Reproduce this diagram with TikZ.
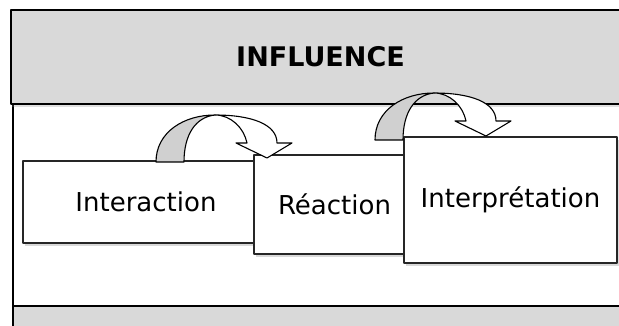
\documentclass[tikz,border=0pt]{standalone}
\usepackage{fontspec}
\setmainfont{DejaVu Sans}
\usetikzlibrary{positioning,shadows}
\definecolor{bargray}{RGB}{217,217,217}
\definecolor{turngray}{RGB}{208,208,208}

\tikzset{
  turnarrow/.pic={
    % back side of the ribbon
    \draw[line width=1.1pt, fill=turngray] (0,0) .. controls (0,-30) and (28,-47) .. (59,-47)
      .. controls (40,-45) and (28,-28) .. (28,0) -- cycle;
    % front side with the head
    \draw[line width=1.1pt, fill=white] (59,-47) .. controls (95,-47) and (121,-38) .. (121,-19)
      -- (136,-19) -- (111,-4) -- (80,-19) -- (91,-19)
      .. controls (88,-34) and (75,-47) .. (59,-47) -- cycle;
  }
}

\begin{document}
\begin{tikzpicture}[
  x=1pt, y=-1pt,
  line join=round,
  band/.style={draw=black, line width=1.8pt, fill=bargray, inner sep=0pt,
    font=\fontsize{27}{30}\selectfont\bfseries,
    drop shadow={opacity=0.25, shadow xshift=1pt, shadow yshift=-3pt}},
  stage/.style={draw=black!85, line width=1.6pt, fill=white, inner sep=0pt,
    font=\fontsize{26}{30}\selectfont,
    drop shadow={opacity=0.3, shadow xshift=2pt, shadow yshift=-3pt}},
  ]
  \clip (0,0) rectangle (619,326);

  % frame below the title
  \fill[bargray] (13,306) rectangle (640,330);
  \draw[line width=1.4pt] (13,306) -- (640,306);
  \draw[line width=1.4pt] (13,100) -- (13,330);

  \node[band, minimum width=619pt, minimum height=94pt] (infl) at (320.5,57) {INFLUENCE};

  \node[stage, minimum width=246pt, minimum height=82pt] (inter) at (146,202) {Interaction};
  \node[stage, minimum width=161pt, minimum height=99pt] (reac) at (334.5,204.5) {Réaction};

  \coordinate (turn1) at (156,162);
  \pic at (turn1) {turnarrow};

  \node[stage, minimum width=213pt, minimum height=126pt] (interp) at (510.5,200) {Interprétation};

  \coordinate (turn2) at (375,140);
  \pic at (turn2) {turnarrow};

\end{tikzpicture}
\end{document}
